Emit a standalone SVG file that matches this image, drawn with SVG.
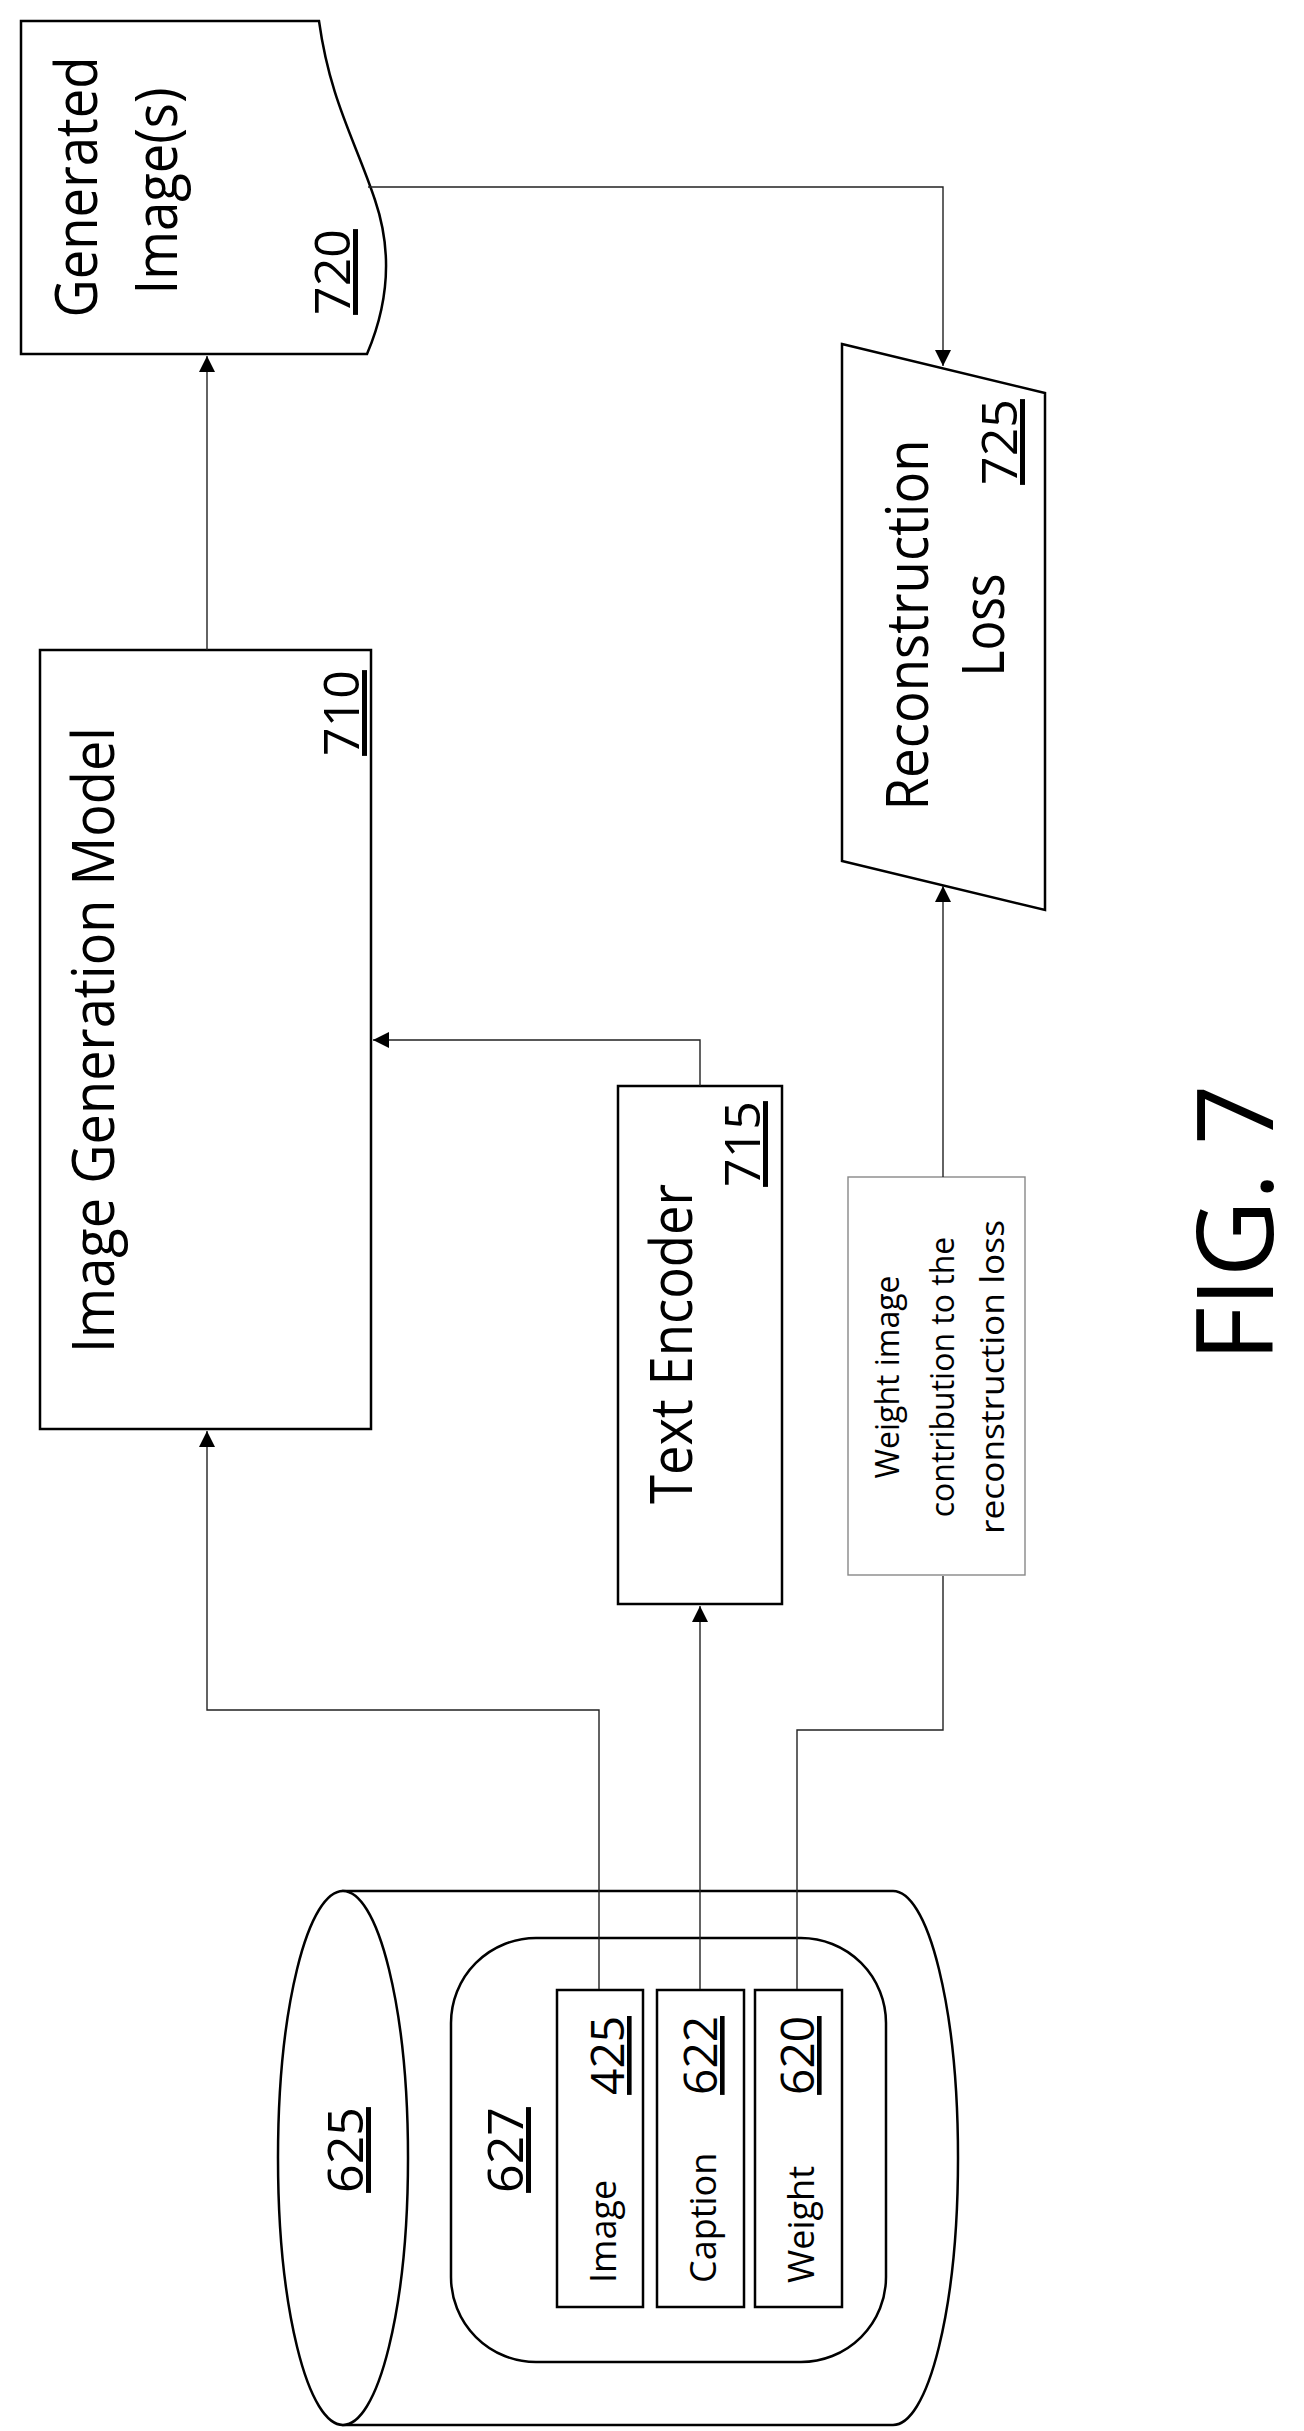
<svg xmlns="http://www.w3.org/2000/svg" width="1304" height="2431" viewBox="0 0 1304 2431">
<style>
.s{fill:#fff;stroke:#000;stroke-width:2.5}
.c{fill:none;stroke:#222;stroke-width:1.4}
text{font-family:"Open Sans","Liberation Sans",sans-serif;fill:#000}
.u{text-decoration:underline}
</style>
<defs>
<marker id="a" viewBox="0 0 10 10" refX="10" refY="5" markerWidth="16" markerHeight="16" markerUnits="userSpaceOnUse" orient="auto"><path d="M0,0L10,5L0,10Z" fill="#000"/></marker>
</defs>
<rect width="1304" height="2431" fill="#fff"/>
<g id="n720">
<path class="s" d="M21,21H319C330,100 355,140 375,200C392,250 390,300 367,354H21Z"/>
<text transform="translate(97,187) rotate(-90)" font-size="58" text-anchor="middle" textLength="261" lengthAdjust="spacingAndGlyphs">Generated</text>
<text transform="translate(177,191) rotate(-90)" font-size="58" text-anchor="middle" textLength="207" lengthAdjust="spacingAndGlyphs">Image(s)</text>
<text class="u" transform="translate(350,272) rotate(-90)" font-size="50" text-anchor="middle">720</text>
</g>
<g id="n710">
<rect class="s" x="40" y="650" width="331" height="779"/>
<text transform="translate(114,1040) rotate(-90)" font-size="58" text-anchor="middle" textLength="626" lengthAdjust="spacingAndGlyphs">Image Generation Model</text>
<text class="u" transform="translate(359,713) rotate(-90)" font-size="50" text-anchor="middle">710</text>
</g>
<g id="n715">
<rect class="s" x="618" y="1086" width="164" height="518"/>
<text transform="translate(692,1344) rotate(-90)" font-size="58" text-anchor="middle" textLength="320" lengthAdjust="spacingAndGlyphs">Text Encoder</text>
<text class="u" transform="translate(760,1144) rotate(-90)" font-size="50" text-anchor="middle">715</text>
</g>
<g id="n725">
<path class="s" d="M842,344L1045,393V910L842,861Z"/>
<text transform="translate(928,625) rotate(-90)" font-size="58" text-anchor="middle" textLength="371" lengthAdjust="spacingAndGlyphs">Reconstruction</text>
<text transform="translate(1004,625) rotate(-90)" font-size="58" text-anchor="middle" textLength="103" lengthAdjust="spacingAndGlyphs">Loss</text>
<text class="u" transform="translate(1017,442) rotate(-90)" font-size="50" text-anchor="middle">725</text>
</g>
<g id="weightlabel">
<rect x="848" y="1177" width="177" height="398" fill="#fff" stroke="#888" stroke-width="1.4"/>
<g font-size="32" text-anchor="middle">
<text transform="translate(899,1377) rotate(-90)">Weight image</text>
<text transform="translate(954,1377) rotate(-90)">contribution to the</text>
<text transform="translate(1004,1377) rotate(-90)" textLength="314" lengthAdjust="spacingAndGlyphs">reconstruction loss</text>
</g>
</g>
<g id="n625">
<path class="s" d="M343,1891H893A65,267 0 0 1 893,2425H343Z"/>
<ellipse class="s" cx="343" cy="2158" rx="65" ry="267"/>
<text class="u" transform="translate(363,2150) rotate(-90)" font-size="50" text-anchor="middle">625</text>
</g>
<g id="n627">
<rect class="s" x="451" y="1938" width="435" height="424" rx="85"/>
<text class="u" transform="translate(523,2150) rotate(-90)" font-size="50" text-anchor="middle">627</text>
</g>
<g id="n425">
<rect class="s" x="557" y="1990" width="86" height="317"/>
<text transform="translate(616,2283) rotate(-90)" font-size="36">Image</text>
<text class="u" transform="translate(624,2016) rotate(-90)" font-size="46" text-anchor="end">425</text>
</g>
<g id="n622">
<rect class="s" x="657" y="1990" width="87" height="317"/>
<text transform="translate(716,2283) rotate(-90)" font-size="36">Caption</text>
<text class="u" transform="translate(717,2016) rotate(-90)" font-size="46" text-anchor="end">622</text>
</g>
<g id="n620">
<rect class="s" x="755" y="1990" width="87" height="317"/>
<text transform="translate(814,2283) rotate(-90)" font-size="36">Weight</text>
<text class="u" transform="translate(814,2016) rotate(-90)" font-size="46" text-anchor="end">620</text>
</g>
<g id="conn">
<path class="c" d="M207,650V356" marker-end="url(#a)"/>
<path class="c" d="M700,1086V1040H373" marker-end="url(#a)"/>
<path class="c" d="M368,187H943V366" marker-end="url(#a)"/>
<path class="c" d="M943,1177V886" marker-end="url(#a)"/>
<path class="c" d="M599,1989V1710H207V1431" marker-end="url(#a)"/>
<path class="c" d="M700,1989V1606" marker-end="url(#a)"/>
<path class="c" d="M797,1989V1730H943V1576"/>
</g>
<text transform="translate(1273,1223) rotate(-90)" font-size="106" text-anchor="middle">FIG. 7</text>
</svg>
